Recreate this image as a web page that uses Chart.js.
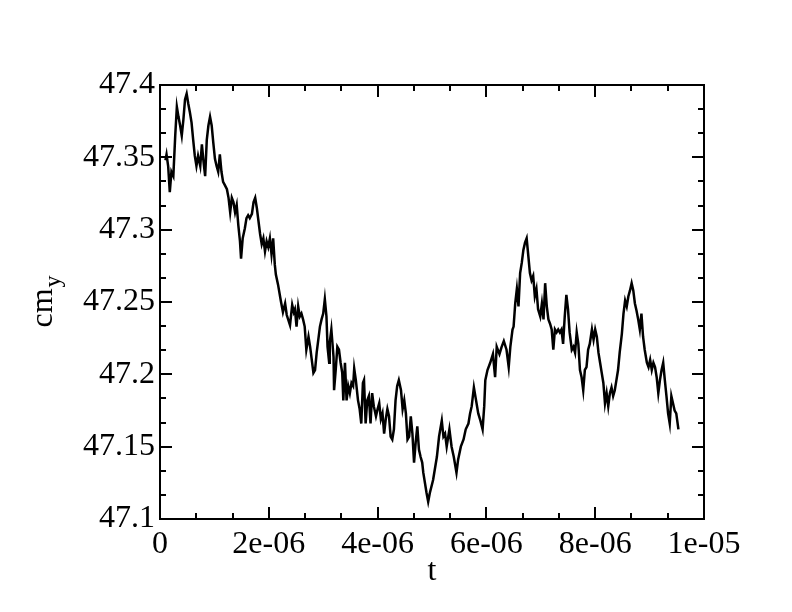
<!DOCTYPE html>
<html>
<head>
<meta charset="utf-8">
<script src="https://cdn.jsdelivr.net/npm/chart.js@4.4.1/dist/chart.umd.min.js"></script>
<style>
html,body{margin:0;padding:0;background:#fff;}
canvas{display:block;}
</style>
</head>
<body>
<canvas id="c" width="792" height="612"></canvas>
<script>
// time in units of 1e-6 s
const tMicro = [
0.10,0.12,0.15,0.18,0.21,0.245,0.28,0.31,0.34,0.37,0.40,0.43,0.46,0.49,0.52,0.55,0.58,0.61,0.64,0.67,
0.70,0.74,0.77,0.80,0.83,0.86,0.89,0.92,0.95,0.98,1.01,1.04,1.07,1.10,1.13,1.16,1.19,1.23,1.26,1.29,
1.32,1.35,1.38,1.41,1.44,1.47,1.49,1.52,1.56,1.59,1.62,1.65,1.69,1.72,1.75,1.78,1.81,1.84,1.87,1.90,
1.93,1.96,1.99,2.02,2.05,2.08,2.11,2.13,2.17,2.22,2.26,2.30,2.33,2.39,2.43,2.46,
2.48,2.51,2.54,2.57,2.60,2.63,2.66,2.69,2.73,2.76,2.79,2.82,2.85,2.88,2.91,2.94,2.97,3.00,3.03,3.06,
3.08,3.11,3.12,3.15,3.19,3.20,3.23,3.26,3.29,3.32,3.35,3.37,3.40,3.43,3.46,3.49,3.52,3.55,3.57,3.60,
3.64,3.67,3.70,3.73,3.75,3.78,3.81,3.84,3.87,3.90,3.93,3.97,4.00,4.03,4.06,4.09,4.12,4.15,4.18,4.21,
4.24,4.27,4.30,4.33,4.36,4.39,4.43,4.46,4.49,4.52,4.55,4.58,4.61,4.64,4.67,4.70,4.73,4.76,4.79,4.82,
4.84,4.90,4.93,4.96,5.02,5.09,5.13,5.18,5.21,5.24,5.27,5.32,5.36,5.40,5.45,5.48,5.53,5.58,5.62,5.67,
5.70,5.73,5.77,5.81,5.85,5.89,5.93,5.96,5.98,6.02,6.07,6.12,6.16,6.19,6.24,6.28,6.32,6.37,6.41,6.44,6.48,
6.50,6.53,6.56,6.59,6.62,6.65,6.68,6.71,6.74,6.77,6.80,6.83,6.86,6.89,6.92,6.95,6.99,7.02,7.05,7.08,
7.11,7.14,7.17,7.20,7.23,7.26,7.29,7.32,7.35,7.38,7.41,7.44,7.47,7.50,7.53,
7.57,7.60,7.63,7.66,7.69,7.72,7.75,7.78,7.81,7.84,7.87,7.90,7.94,7.97,8.00,8.03,8.06,8.09,8.12,8.15,
8.18,8.21,8.24,8.27,8.30,8.33,8.36,8.39,8.42,8.45,8.49,8.52,8.55,8.58,8.61,8.64,8.67,8.70,8.73,8.76,
8.79,8.82,8.85,8.88,8.91,8.95,8.98,9.01,9.04,9.07,9.10,9.13,9.16,9.19,9.22,9.25,9.28,9.31,9.34,9.37,
9.40,9.43,9.46,9.49,9.53
];
const cmY = [
47.348,47.352,47.344,47.326,47.340,47.337,47.365,47.385,47.378,47.372,47.365,47.376,47.390,47.394,47.387,47.381,47.374,47.362,47.351,47.344,
47.351,47.344,47.359,47.347,47.337,47.362,47.372,47.378,47.372,47.360,47.349,47.344,47.340,47.352,47.340,47.333,47.331,47.328,47.322,47.312,
47.322,47.319,47.312,47.317,47.303,47.292,47.280,47.294,47.301,47.308,47.310,47.308,47.311,47.319,47.322,47.315,47.306,47.297,47.290,47.294,
47.285,47.292,47.288,47.294,47.283,47.294,47.276,47.269,47.262,47.251,47.243,47.249,47.241,47.234,47.248,47.243,
47.245,47.233,47.247,47.240,47.242,47.238,47.233,47.217,47.226,47.219,47.210,47.201,47.203,47.215,47.224,47.233,47.238,47.242,47.252,47.240,
47.219,47.208,47.222,47.231,47.212,47.189,47.203,47.219,47.217,47.208,47.201,47.182,47.208,47.182,47.192,47.187,47.194,47.192,47.204,47.196,
47.182,47.176,47.166,47.194,47.196,47.166,47.182,47.185,47.166,47.187,47.178,47.171,47.176,47.180,47.169,47.173,47.159,47.169,47.176,47.171,
47.157,47.155,47.162,47.182,47.192,47.196,47.189,47.176,47.182,47.173,47.155,47.157,47.171,47.159,47.139,47.153,47.164,47.148,47.143,47.139,
47.132,47.118,47.112,47.118,47.127,47.143,47.157,47.168,47.157,47.159,47.150,47.162,47.150,47.143,47.132,47.141,47.150,47.155,47.162,47.166,
47.173,47.178,47.191,47.182,47.173,47.168,47.162,47.178,47.196,47.203,47.208,47.214,47.198,47.219,47.214,47.219,47.223,47.217,47.205,47.219,47.231,
47.233,47.249,47.259,47.247,47.270,47.277,47.286,47.291,47.294,47.282,47.270,47.265,47.268,47.254,47.259,47.245,47.240,47.249,47.238,47.263,
47.247,47.238,47.235,47.231,47.217,47.231,47.229,47.231,47.229,47.231,47.221,47.240,47.255,47.245,47.229,
47.217,47.219,47.215,47.229,47.221,47.203,47.198,47.189,47.203,47.205,47.217,47.221,47.231,47.224,47.231,47.226,47.215,47.208,47.201,47.194,
47.180,47.187,47.178,47.187,47.191,47.185,47.189,47.196,47.203,47.215,47.228,47.242,47.251,47.247,47.254,47.258,47.263,47.258,47.249,47.244,
47.238,47.231,47.242,47.226,47.217,47.208,47.205,47.210,47.203,47.208,47.205,47.198,47.187,47.196,47.203,47.208,47.196,47.185,47.173,47.166,
47.185,47.180,47.175,47.173,47.162
];
const xTickValues = [0, 2, 4, 6, 8, 10];
const xTickLabels = ['0', '2e-06', '4e-06', '6e-06', '8e-06', '1e-05'];
const yTickValues = [47.1, 47.15, 47.2, 47.25, 47.3, 47.35, 47.4];
const yTickLabels = ['47.1', '47.15', '47.2', '47.25', '47.3', '47.35', '47.4'];
const xTitle = 't';
const yTitleMain = 'cm';
const yTitleSub = 'y';

const FONT = '"Liberation Serif", "Times New Roman", serif';

const framePlugin = {
  id: 'frame',
  beforeDraw(chart) {
    const ctx = chart.ctx;
    ctx.save();
    ctx.fillStyle = '#fff';
    ctx.fillRect(0, 0, chart.width, chart.height);
    ctx.restore();
  },
  afterDraw(chart) {
    const {ctx, chartArea, scales} = chart;
    const {left, right, top, bottom} = chartArea;
    const xs = scales.x, ys = scales.y;
    ctx.save();
    ctx.strokeStyle = '#000';
    ctx.lineWidth = 2;
    ctx.lineCap = 'butt';
    ctx.strokeRect(left, top, right - left, bottom - top);
    const MAJ = 12, MIN = 6;
    ctx.beginPath();
    for (let i = 0; i < xTickValues.length; i++) {
      const v = xTickValues[i];
      const px = Math.round(xs.getPixelForValue(v));
      ctx.moveTo(px, bottom); ctx.lineTo(px, bottom - MAJ);
      ctx.moveTo(px, top); ctx.lineTo(px, top + MAJ);
      if (i < xTickValues.length - 1) {
        const step = (xTickValues[i + 1] - v) / 3;
        for (let k = 1; k < 3; k++) {
          const mx = Math.round(xs.getPixelForValue(v + k * step));
          ctx.moveTo(mx, bottom); ctx.lineTo(mx, bottom - MIN);
          ctx.moveTo(mx, top); ctx.lineTo(mx, top + MIN);
        }
      }
    }
    for (let i = 0; i < yTickValues.length; i++) {
      const v = yTickValues[i];
      const py = Math.round(ys.getPixelForValue(v));
      ctx.moveTo(left, py); ctx.lineTo(left + MAJ, py);
      ctx.moveTo(right, py); ctx.lineTo(right - MAJ, py);
      if (i < yTickValues.length - 1) {
        const step = (yTickValues[i + 1] - v) / 3;
        for (let k = 1; k < 3; k++) {
          const my = Math.round(ys.getPixelForValue(v + k * step));
          ctx.moveTo(left, my); ctx.lineTo(left + MIN, my);
          ctx.moveTo(right, my); ctx.lineTo(right - MIN, my);
        }
      }
    }
    ctx.stroke();

    // axis titles
    ctx.fillStyle = '#000';
    ctx.font = '32px ' + FONT;
    ctx.textAlign = 'center';
    ctx.textBaseline = 'alphabetic';
    ctx.fillText(xTitle, (left + right) / 2, 580);

    const yc = (top + bottom) / 2;
    ctx.translate(52, yc);
    ctx.rotate(-Math.PI / 2);
    ctx.textAlign = 'left';
    ctx.font = '32px ' + FONT;
    const wMain = ctx.measureText(yTitleMain).width;
    ctx.font = '24px ' + FONT;
    const wSub = ctx.measureText(yTitleSub).width;
    const x0 = -(wMain + wSub) / 2;
    ctx.font = '32px ' + FONT;
    ctx.fillText(yTitleMain, x0, 0);
    ctx.font = '24px ' + FONT;
    ctx.fillText(yTitleSub, x0 + wMain + 1, 8);
    ctx.restore();
  }
};

new Chart(document.getElementById('c'), {
  type: 'line',
  data: {
    datasets: [{
      data: tMicro.map((t, i) => ({x: t, y: cmY[i]})),
      borderColor: '#000',
      borderWidth: 2.5,
      pointRadius: 0,
      tension: 0,
      fill: false
    }]
  },
  options: {
    responsive: false,
    animation: false,
    devicePixelRatio: 1,
    layout: {padding: {left: 0, right: 88, top: 85, bottom: 0}},
    plugins: {legend: {display: false}, tooltip: {enabled: false}},
    scales: {
      x: {
        type: 'linear', min: 0, max: 10,
        grid: {display: false, drawTicks: false},
        border: {display: false},
        afterBuildTicks: s => { s.ticks = xTickValues.map(v => ({value: v})); },
        afterFit: s => { s.height = 93; },
        ticks: {
          callback: (v, i) => xTickLabels[i],
          font: {family: FONT, size: 32},
          color: '#000', padding: 6, maxRotation: 0, autoSkip: false
        }
      },
      y: {
        type: 'linear', min: 47.1, max: 47.4,
        grid: {display: false, drawTicks: false},
        border: {display: false},
        afterBuildTicks: s => { s.ticks = yTickValues.map(v => ({value: v})); },
        afterFit: s => { s.width = 160; },
        ticks: {
          callback: (v, i) => yTickLabels[i],
          font: {family: FONT, size: 32},
          color: '#000', padding: 5, autoSkip: false
        }
      }
    }
  },
  plugins: [framePlugin]
});
</script>
</body>
</html>
